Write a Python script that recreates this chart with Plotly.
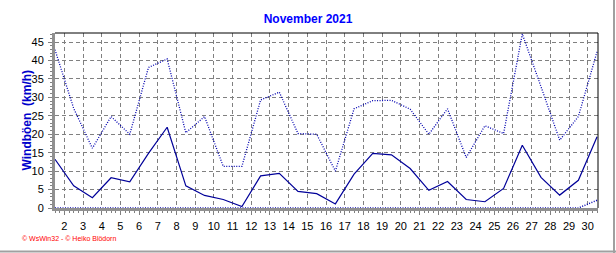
import plotly.graph_objects as go

days = list(range(1, 31))
gust_avg = [13.2, 6.0, 2.8, 8.2, 7.1, 14.8, 21.9, 6.0, 3.4, 2.3, 0.4, 8.7, 9.4, 4.5, 3.9, 1.1,
            9.2, 14.8, 14.4, 10.7, 4.8, 7.2, 2.3, 1.7, 5.3, 17.0, 8.3, 3.5, 7.5, 19.3]
gust_max = [42.9, 27.0, 16.2, 24.8, 20.0, 38.1, 40.4, 20.4, 24.8, 11.3, 11.3, 29.3, 31.4, 20.2, 20.0, 10.0,
            26.9, 29.1, 29.2, 26.8, 20.0, 26.9, 13.7, 22.3, 20.2, 47.2, 32.9, 18.4, 24.8, 42.4]
gust_low = [0] * 29 + [2.1]
x_ticks = list(range(2, 31))
y_ticks = list(range(0, 50, 5))

xpos = [d + 0.5 for d in days]
line_col = "#000099"

fig = go.Figure()
fig.add_trace(go.Scatter(x=xpos, y=gust_max, mode="lines",
                         line=dict(color="#0000B0", width=1.3, dash="1px,1.5px"), showlegend=False))
fig.add_trace(go.Scatter(x=xpos, y=gust_avg, mode="lines",
                         line=dict(color=line_col, width=1.2), showlegend=False))
fig.add_trace(go.Scatter(x=xpos, y=gust_low, mode="lines",
                         line=dict(color="#0000B0", width=1.5, dash="1px,1.5px"), showlegend=False, cliponaxis=False))

fig.update_layout(
    width=616, height=253,
    margin=dict(l=55, r=18, t=33, b=45),
    paper_bgcolor="white", plot_bgcolor="white",
    font=dict(family="Liberation Sans, Arial, sans-serif", size=11, color="black"),
    title=dict(text="<b>November 2021</b>", x=(308 / 616), xanchor="center", y=1 - 19 / 253, yanchor="middle",
               font=dict(size=12, color="#0000FF", family="Liberation Sans, Arial, sans-serif")),
    xaxis=dict(range=[1.5, 30.55], tickvals=x_ticks, ticktext=[str(t) for t in x_ticks],
               showgrid=True, gridcolor="#808080", griddash="4px,3px", gridwidth=1,
               showline=True, linecolor="#909090", linewidth=3,
               ticks="outside", ticklen=4, tickcolor="#808080", tickwidth=1,
               minor=dict(dtick=0.25, tick0=0, ticks="outside", ticklen=2, tickcolor="#808080", showgrid=False),
               zeroline=False, fixedrange=True, layer="below traces", ticklabelstandoff=2),
    yaxis=dict(range=[0, 47.45], tickvals=y_ticks,
               showgrid=True, gridcolor="#808080", griddash="4px,3px", gridwidth=1,
               showline=True, linecolor="#909090", linewidth=3,
               ticks="outside", ticklen=4, tickcolor="#808080", tickwidth=1,
               minor=dict(dtick=1, ticks="outside", ticklen=2, tickcolor="#808080", showgrid=False),
               zeroline=False, fixedrange=True, layer="below traces", ticklabelstandoff=2),
)

# top and right plot borders (black)
fig.add_shape(type="line", xref="paper", yref="paper", x0=0, x1=1, y0=1, y1=1,
              line=dict(color="black", width=1))
fig.add_shape(type="line", xref="paper", yref="paper", x0=1, x1=1, y0=0, y1=1,
              line=dict(color="black", width=1))

# outer gray frame (right and bottom)
pw, ph = 543, 175
fig.add_shape(type="line", xref="paper", yref="paper",
              x0=(614 - 55) / pw, x1=(614 - 55) / pw, y0=(208 - 253) / ph, y1=(208 - 0) / ph,
              line=dict(color="#A0A0A0", width=2))
fig.add_shape(type="line", xref="paper", yref="paper",
              x0=(0 - 55) / pw, x1=(616 - 55) / pw, y0=(208 - 251.5) / ph, y1=(208 - 251.5) / ph,
              line=dict(color="#A0A0A0", width=2))

fig.add_annotation(text="<b>Windböen  (km/h)</b>", textangle=-90, xref="paper", yref="paper",
                   x=(26 - 55) / pw, y=0.5, xanchor="center", yanchor="middle", showarrow=False,
                   font=dict(size=12, color="#0000CC", family="Liberation Sans, Arial, sans-serif"))
fig.add_annotation(text="© WsWin32 - © Heiko Blödorn", xref="paper", yref="paper",
                   x=(20 - 55) / pw, y=(208 - 239) / ph, xanchor="left", yanchor="middle", showarrow=False,
                   font=dict(size=7, color="#FF0000", family="Liberation Sans, Arial, sans-serif"))

fig.write_html("out.html")
